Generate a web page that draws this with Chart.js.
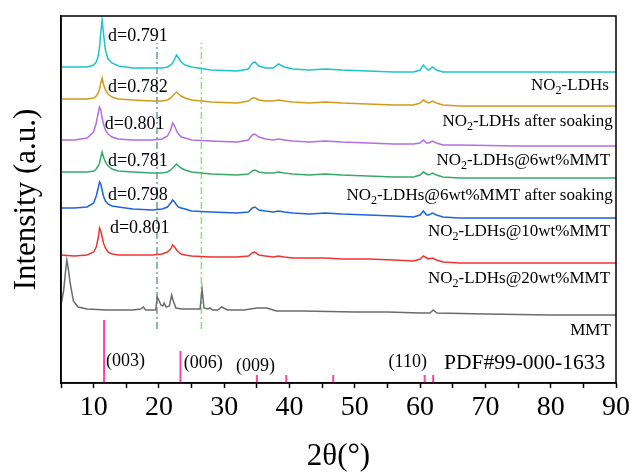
<!DOCTYPE html>
<html>
<head>
<meta charset="utf-8">
<script src="https://cdn.jsdelivr.net/npm/chart.js@4.4.0/dist/chart.umd.min.js"></script>
<style>
  html, body { margin: 0; padding: 0; background: #fff; }
  #chart { display: block; }
</style>
</head>
<body>
<canvas id="chart" width="634" height="475"></canvas>
<script>
// 2θ grid shared by the LDH patterns
const twoTheta = [5, 7, 9, 10, 10.4, 10.7, 10.9, 11.1, 11.3, 11.5,
                  11.8, 12.2, 12.8, 13.8, 16, 19, 20.5, 21.3, 21.8, 22.1,
                  22.4, 22.7, 23.0, 23.4, 24.0, 25, 28, 32, 33.7, 34.3,
                  34.7, 35.3, 36.3, 37.5, 38.3, 39.2, 40.5, 43, 45.5, 48,
                  52, 56, 59, 60.0, 60.5, 61.0, 61.3, 61.9, 62.5, 63.5,
                  66, 75, 90];

// stacked intensities (a.u., offset already included)
const ldh        = [316, 316, 316, 318, 321, 327, 336, 351, 363, 350,
                    333, 324, 320, 317, 315, 315, 315, 316, 318, 320,
                    324, 328, 325, 321, 318, 316, 313, 312, 314, 320,
                    321, 317, 315, 315, 319, 316, 314, 313, 314, 313,
                    312, 311, 311, 313, 318, 314, 313, 316, 313, 311,
                    311, 311, 311];
const ldhSoaked  = [284, 284, 284, 285, 287, 290, 294, 300, 305, 299,
                    293, 289, 286, 284, 283, 282, 282, 283, 285, 287,
                    289, 291, 289, 287, 285, 283, 281, 280, 282, 285,
                    285, 283, 282, 282, 283, 282, 281, 280, 281, 280,
                    279, 278, 278, 280, 283, 281, 280, 282, 280, 278,
                    277, 277, 277];
const ldh6       = [243, 243, 245, 251, 260, 270, 276, 273, 265, 259,
                    253, 249, 246, 244, 243, 243, 244, 247, 253, 260,
                    257, 252, 249, 246, 245, 243, 242, 241, 243, 248,
                    249, 246, 244, 243, 244, 243, 242, 241, 242, 241,
                    240, 239, 239, 240, 243, 240, 240, 242, 240, 238,
                    238, 237, 237];
const ldh6Soaked = [211, 211, 211, 212, 214, 217, 220, 226, 231, 226,
                    221, 217, 214, 212, 211, 210, 210, 211, 213, 215,
                    217, 219, 217, 215, 213, 211, 209, 208, 209, 212,
                    213, 211, 210, 210, 211, 210, 209, 208, 209, 208,
                    207, 206, 206, 208, 211, 209, 208, 210, 208, 206,
                    205, 205, 205];
const ldh10      = [175, 175, 176, 180, 187, 195, 201, 199, 193, 187,
                    182, 179, 177, 176, 174, 173, 174, 176, 180, 183,
                    181, 178, 176, 175, 174, 172, 171, 170, 171, 175,
                    176, 173, 172, 171, 172, 171, 170, 169, 170, 169,
                    168, 167, 166, 168, 172, 168, 168, 170, 168, 166,
                    165, 165, 165];
const ldh20      = [128, 127, 128, 131, 136, 145, 155, 152, 146, 140,
                    135, 131, 129, 128, 128, 128, 129, 131, 134, 138,
                    136, 133, 131, 129, 128, 127, 126, 126, 127, 130,
                    131, 128, 127, 126, 127, 126, 125, 125, 125, 124,
                    124, 123, 122, 124, 127, 125, 124, 125, 123, 121,
                    120, 120, 120];

// MMT has its own 2θ points
const mmtTheta = [5, 5.4, 5.7, 5.9, 6.1, 6.4, 6.9, 7.6, 9, 12,
                  16, 17.2, 17.6, 18.0, 19.5, 19.75, 19.9, 20.3, 20.6, 20.8,
                  21.1, 21.6, 21.95, 22.2, 22.6, 23.5, 26.3, 26.6, 26.9, 27.5,
                  27.8, 28.2, 29.0, 29.6, 30.5, 33, 35, 36.5, 38, 42,
                  50, 55, 60, 61.5, 62, 62.6, 70, 80, 90];
const mmt      = [78, 92, 112, 123, 115, 100, 82, 76, 74, 73,
                  73, 74, 76, 73, 73, 86, 84, 78, 77, 80,
                  76, 77, 88, 82, 75, 74, 74, 94, 75, 74,
                  75, 73, 73, 76, 73, 73, 75, 75, 72, 72,
                  71, 71, 70, 70, 73, 70, 69, 68, 68];

// PDF#99-000-1633 reference lines
const pdfTheta  = [11.6, 23.3, 35.0, 39.5, 46.7, 60.7, 62.0];
const pdfHeight = [63, 32, 8, 8, 8, 8, 8];

// dash-dot guide lines
const guideTheta = [19.7, 26.5];
const guideRange = [54, 340];

const seriesNames = ['NO2-LDHs', 'NO2-LDHs after soaking', 'NO2-LDHs@6wt%MMT', 'NO2-LDHs@6wt%MMT after soaking', 'NO2-LDHs@10wt%MMT', 'NO2-LDHs@20wt%MMT', 'MMT'];
const dSpacing = ['d=0.791', 'd=0.782', 'd=0.801', 'd=0.781', 'd=0.798', 'd=0.801'];
const millerLabels = ['(003)', '(006)', '(009)', '(110)'];

const xTicks = [10, 20, 30, 40, 50, 60, 70, 80, 90];

const SERIF = '"Liberation Serif", "Times New Roman", serif';
const colors = ['#1cc6c9', '#d19b1c', '#b46ee4', '#37a96b', '#1f63df', '#ef3434', '#6b6b6b'];

function pts(xs, ys) {
    return xs.map((x, i) => ({ x: x, y: ys[i] }));
}

function pdfSegments() {
    const out = [];
    pdfTheta.forEach((x, i) => {
        out.push({ x: x, y: 0 }, { x: x, y: pdfHeight[i] }, { x: x, y: null });
    });
    return out;
}

const patterns = [ldh, ldhSoaked, ldh6, ldh6Soaked, ldh10, ldh20];
const datasets = patterns.map((ys, i) => ({
    label: seriesNames[i],
    data: pts(twoTheta, ys),
    borderColor: colors[i],
    borderWidth: 1.5
}));
datasets.push({ label: 'MMT', data: pts(mmtTheta, mmt), borderColor: colors[6], borderWidth: 1.5 });
datasets.push({
    label: 'guide1',
    data: [{ x: guideTheta[0], y: guideRange[0] }, { x: guideTheta[0], y: guideRange[1] }],
    borderColor: '#6a9ea2', borderWidth: 1.5, borderDash: [7, 3, 2, 3]
});
datasets.push({
    label: 'guide2',
    data: [{ x: guideTheta[1], y: guideRange[0] }, { x: guideTheta[1], y: guideRange[1] }],
    borderColor: '#8ce36e', borderWidth: 1.5, borderDash: [7, 3, 2, 3]
});
datasets.push({ label: 'PDF', data: pdfSegments(), borderColor: '#ff40a8', borderWidth: 2, spanGaps: false });

// text pieces: [text, isSubscript]
function richParts(s) {
    if (s.startsWith('NO2')) return [['NO', false], ['2', true], [s.slice(3), false]];
    return [[s, false]];
}

function drawRich(ctx, s, x, y, size, align) {
    const parts = richParts(s);
    const subSize = Math.round(size * 0.68);
    let total = 0;
    parts.forEach(p => {
        ctx.font = (p[1] ? subSize : size) + 'px ' + SERIF;
        total += ctx.measureText(p[0]).width;
    });
    let cx = align === 'right' ? x - total : align === 'center' ? x - total / 2 : x;
    ctx.textAlign = 'left';
    ctx.textBaseline = 'alphabetic';
    parts.forEach(p => {
        ctx.font = (p[1] ? subSize : size) + 'px ' + SERIF;
        ctx.fillText(p[0], cx, p[1] ? y + size * 0.22 : y);
        cx += ctx.measureText(p[0]).width;
    });
}

// label anchors in data units
const dAnchors = [[12.2, 342], [12.2, 291], [11.7, 254], [12.2, 217], [12.2, 183], [12.5, 150]];
const nameAnchors = [[88.9, 293], [89.5, 257], [89.1, 218], [89.5, 183], [89.1, 147], [89.1, 100], [89.2, 48]];
const millerAnchors = [[11.9, 17, 'left'], [23.8, 15, 'left'], [31.8, 12, 'left'], [58.1, 16, 'center']];

const annotate = {
    id: 'annotate',
    afterDraw(chart) {
        const { ctx, chartArea: a, scales: { x, y } } = chart;
        ctx.save();
        ctx.strokeStyle = '#000';
        ctx.lineWidth = 1.5;
        ctx.strokeRect(a.left, a.top, a.right - a.left, a.bottom - a.top);
        ctx.fillStyle = '#000';
        dSpacing.forEach((t, i) => {
            drawRich(ctx, t, x.getPixelForValue(dAnchors[i][0]), y.getPixelForValue(dAnchors[i][1]), 18, 'left');
        });
        seriesNames.forEach((t, i) => {
            drawRich(ctx, t, x.getPixelForValue(nameAnchors[i][0]), y.getPixelForValue(nameAnchors[i][1]), 17, 'right');
        });
        millerLabels.forEach((t, i) => {
            const m = millerAnchors[i];
            drawRich(ctx, t, x.getPixelForValue(m[0]), y.getPixelForValue(m[1]), 18, m[2]);
        });
        drawRich(ctx, 'PDF#99-000-1633', x.getPixelForValue(63.65), y.getPixelForValue(14), 21.5, 'left');
        ctx.restore();
    }
};

new Chart(document.getElementById('chart'), {
    type: 'line',
    data: { datasets: datasets },
    options: {
        responsive: false,
        animation: false,
        layout: { padding: { top: 16, right: 18, left: 0, bottom: 0 } },
        elements: { point: { radius: 0 }, line: { tension: 0 } },
        plugins: { legend: { display: false }, tooltip: { enabled: false } },
        scales: {
            x: {
                type: 'linear',
                min: 5,
                max: 90,
                afterFit: s => { s.height = 92; },
                ticks: {
                    stepSize: 5,
                    autoSkip: false,
                    maxRotation: 0,
                    padding: 3,
                    color: '#000',
                    font: { family: SERIF, size: 28 },
                    callback: v => xTicks.includes(v) ? String(v) : ''
                },
                grid: { display: true, drawOnChartArea: false, drawTicks: true, tickLength: 5, tickColor: '#000', tickWidth: 1.5 },
                border: { display: true, color: '#000', width: 1.5 },
                title: { display: true, text: '2θ(°)', color: '#000', font: { family: SERIF, size: 31 }, padding: { top: 0, bottom: 0 } }
            },
            y: {
                min: 0,
                max: 367,
                afterFit: s => { s.width = 61; },
                ticks: { display: false },
                grid: { display: false },
                border: { display: true, color: '#000', width: 1.5 },
                title: { display: true, text: 'Intensity (a.u.)', color: '#000', font: { family: SERIF, size: 31 }, padding: { top: 8, bottom: 0 } }
            }
        }
    },
    plugins: [annotate]
});
</script>
</body>
</html>
